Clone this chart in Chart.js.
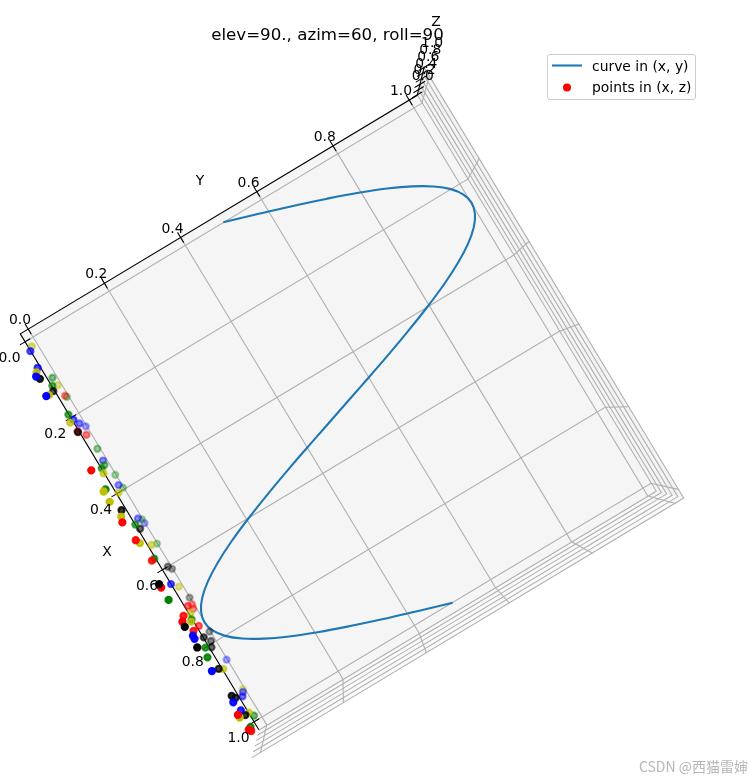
<!DOCTYPE html>
<html>
<head>
<meta charset="utf-8">
<title>elev=90., azim=60, roll=90</title>
<script src="https://cdn.jsdelivr.net/npm/chart.js@4/dist/chart.umd.min.js"></script>
<style>
    html, body { margin: 0; padding: 0; background: #fff; }
    canvas { display: block; }
</style>
</head>
<body>
<canvas id="chart" width="753" height="780"></canvas>
<script>
// curve in (x, y)
const curveX = [0, .025, .05, .075, .1, .125, .15, .175, .2, .225, .25, .275, .3, .325, .35, .375, .4, .425, .45, .475, .5,
    .525, .55, .575, .6, .625, .65, .675, .7, .725, .75, .775, .8, .825, .85, .875, .9, .925, .95, .975, 1];
const curveY = [.5, .578, .655, .727, .794, .854, .905, .946, .976, .994, 1, .994, .976, .946, .905, .854, .794, .727, .655, .578, .5,
    .422, .345, .273, .206, .146, .095, .054, .024, .006, 0, .006, .024, .054, .095, .146, .206, .273, .345, .422, .5];

// points in (x, z), all lying on the y = 0 wall
const redX = [.155, .246, .256, .339, .465, .511, .566, .622, .694, .7, .708, .7, .706, .743, .739, .93, .971, .979];
const redZ = [.14, .55, .24, .97, .98, .87, .71, 1, .32, .07, .15, .78, .97, .37, .74, 1, .92, .85];
const greenX = [.109, .131, .158, .204, .293, .334, .34, .362, .396, .387, .479, .482, .543, .566, .652, .72, .784, .8, .975, .974];
const greenZ = [.22, .45, .09, .51, .12, .25, .47, .015, .02, .85, .02, .48, 0, .55, 1, .52, .66, .82, .32, .775];
const blueX = [.044, .087, .111, .159, .217, .227, .235, .323, .387, .473, .489, .632, .744, .751, .847, .825, .923, .926, .907, .934];
const blueZ = [.5, .62, .91, .98, .42, .25, .03, .19, .157, .19, .015, .49, .885, .895, .02, .98, .17, .31, .875, .76];
const blackX = [.116, .145, .248, .441, .495, .599, .609, .614, .685, .717, .768, .773, .788, .797, .767, .838, .897, .909, .95];
const blackZ = [.81, .55, .55, .705, .38, .15, .01, 1, 0, 1, .46, .03, .23, .38, 1, .64, .78, .66, .695];
const yellowX = [.029, .1, .128, .156, .224, .352, .39, .403, .415, .453, .521, .538, .649, .709, .722, .849, .92, .958, .937];
const yellowZ = [.3, .79, .18, .84, .64, .52, .985, .36, .995, .88, .77, .3, .2, .4, .6, .44, .09, .465, .99];

const xTicks = [0, .2, .4, .6, .8, 1];
const yTicks = [0, .2, .4, .6, .8, 1];
const zTicks = [0, .2, .4, .6, .8, 1];
const tickLabels = ['0.0', '0.2', '0.4', '0.6', '0.8', '1.0'];

// view of the 3d box: floor position of x and y, plus how much z pulls towards the camera
const floorCentre = [338, 412.5];
const xStep = [229, 380];
const yStep = [381, -229];
const persp = 0.0793;
const pad = 1 / 48;      // panes stick out this far past the limits
const lo = -pad, hi = 1 + pad;
const tickLen = 0.0135;

function project(x, y, z) {
    const s = 1 / (1 - persp * (z + pad));
    return {
        x: floorCentre[0] + s * ((x - .5) * xStep[0] + (y - .5) * yStep[0]),
        y: floorCentre[1] + s * ((x - .5) * xStep[1] + (y - .5) * yStep[1])
    };
}

function line3d(pts, color, width, order) {
    return {
        type: 'line',
        data: pts.map(p => project(p[0], p[1], p[2])),
        borderColor: color,
        borderWidth: width,
        pointRadius: 0,
        tension: 0,
        fill: false,
        order: order
    };
}

function pane(pts, color) {
    return {
        type: 'line',
        data: pts.map(p => project(p[0], p[1], p[2])),
        borderWidth: 0,
        borderColor: color,
        backgroundColor: color,
        pointRadius: 0,
        fill: 'shape',
        order: 100
    };
}

const gridColor = '#b0b0b0';
const datasets = [];

datasets.push(pane([[lo, lo, lo], [hi, lo, lo], [hi, hi, lo], [lo, hi, lo]], '#f5f5f5'));
datasets.push(pane([[hi, lo, lo], [hi, hi, lo], [hi, hi, hi], [hi, lo, hi]], '#fafafa'));
datasets.push(pane([[lo, hi, lo], [hi, hi, lo], [hi, hi, hi], [lo, hi, hi]], '#f4f4f4'));

xTicks.forEach(t => datasets.push(line3d([[t, lo, lo], [t, hi, lo], [t, hi, hi]], gridColor, 1.1, 90)));
yTicks.forEach(t => datasets.push(line3d([[lo, t, lo], [hi, t, lo], [hi, t, hi]], gridColor, 1.1, 90)));
zTicks.forEach(t => datasets.push(line3d([[lo, hi, t], [hi, hi, t], [hi, lo, t]], gridColor, 1.1, 90)));

// black axes and ticks
datasets.push(line3d([[hi, lo, lo], [lo, lo, lo], [lo, hi, lo], [lo, hi, hi]], '#000', 1.1, 80));
xTicks.forEach(t => datasets.push(line3d([[t, lo + tickLen, lo], [t, lo - tickLen, lo]], '#000', 1.1, 80)));
yTicks.forEach(t => datasets.push(line3d([[lo + tickLen, t, lo], [lo - tickLen, t, lo]], '#000', 1.1, 80)));
zTicks.forEach(t => datasets.push(line3d([[lo, hi - tickLen, t], [lo, hi + tickLen, t]], '#000', 1.1, 80)));

datasets.push({
    type: 'line',
    label: 'curve in (x, y)',
    data: curveX.map((x, i) => project(x, curveY[i], 0)),
    borderColor: '#1f77b4',
    borderWidth: 2.08,
    pointRadius: 0,
    tension: 0.4,
    fill: false,
    order: 20
});

// scatter is depth sorted, nearer points are more solid
const groups = [[redX, redZ, '255,0,0'], [greenX, greenZ, '0,128,0'], [blueX, blueZ, '0,0,255'],
    [blackX, blackZ, '0,0,0'], [yellowX, yellowZ, '191,191,0']];
let pts = [];
groups.forEach(g => g[0].forEach((x, i) => pts.push({ x: x, z: g[1][i], rgb: g[2] })));
pts.sort((a, b) => a.z - b.z);
const pointColors = pts.map(p => 'rgba(' + p.rgb + ',' + (0.3 + 0.7 * Math.min(p.z, 1)).toFixed(3) + ')');

datasets.push({
    type: 'scatter',
    label: 'points in (x, z)',
    data: pts.map(p => project(p.x, 0, p.z)),
    backgroundColor: pointColors,
    borderColor: pointColors,
    borderWidth: 2.08,
    pointRadius: 3.1,
    order: 10
});

const font10 = '13.9px "DejaVu Sans"';

const textPlugin = {
    id: 'textPlugin',
    afterDraw: function(chart) {
        const ctx = chart.ctx;
        const put = function(txt, x, y, font) {
            ctx.font = font || font10;
            ctx.fillStyle = '#000';
            ctx.textAlign = 'center';
            ctx.textBaseline = 'middle';
            ctx.fillText(txt, x, y);
        };
        ctx.save();
        tickLabels.forEach(function(txt, i) {
            let p = project(xTicks[i], lo, lo);
            put(txt, p.x - 15.5, p.y + 16.5, font10);
            p = project(lo, yTicks[i], lo);
            put(txt, p.x - 8.2, p.y - 8.5, font10);
            p = project(lo, hi, zTicks[i]);
            put(txt, p.x + 5.5 + 2.5 * zTicks[i], p.y - 18 - 6 * zTicks[i], font10);
        });
        put('X', 107, 552);
        put('Y', 200, 181);
        put('Z', 436, 22);
        put('elev=90., azim=60, roll=90', 327.5, 35.5, '16.67px "DejaVu Sans"');

        // legend box
        ctx.beginPath();
        ctx.roundRect(547.5, 54.5, 148, 45, 2.5);
        ctx.fillStyle = 'rgba(255,255,255,0.8)';
        ctx.fill();
        ctx.strokeStyle = '#cccccc';
        ctx.lineWidth = 1;
        ctx.stroke();
        ctx.beginPath();
        ctx.moveTo(552, 65.5);
        ctx.lineTo(582, 65.5);
        ctx.strokeStyle = '#1f77b4';
        ctx.lineWidth = 2.08;
        ctx.stroke();
        ctx.beginPath();
        ctx.arc(567, 87.5, 4, 0, Math.PI * 2);
        ctx.fillStyle = '#ff0000';
        ctx.fill();
        ctx.textAlign = 'left';
        ctx.textBaseline = 'middle';
        ctx.fillStyle = '#000';
        ctx.font = font10;
        ctx.fillText('curve in (x, y)', 592, 67);
        ctx.fillText('points in (x, z)', 592, 88);

        // site watermark in the corner of the screenshot
        ctx.textAlign = 'right';
        ctx.font = '14px "Noto Sans CJK SC"';
        ctx.fillStyle = 'rgba(120,120,120,0.55)';
        ctx.fillText('CSDN @西猫雷婶', 748, 767);
        ctx.restore();
    }
};

new Chart(document.getElementById('chart').getContext('2d'), {
    data: { datasets: datasets },
    options: {
        responsive: false,
        animation: false,
        devicePixelRatio: 1,
        layout: { padding: 0, autoPadding: false },
        plugins: {
            legend: { display: false },
            title: { display: false },
            tooltip: { enabled: false }
        },
        scales: {
            x: { type: 'linear', min: 0, max: 753, display: false },
            y: { type: 'linear', min: 0, max: 780, reverse: true, display: false }
        }
    },
    plugins: [textPlugin]
});
</script>
</body>
</html>
